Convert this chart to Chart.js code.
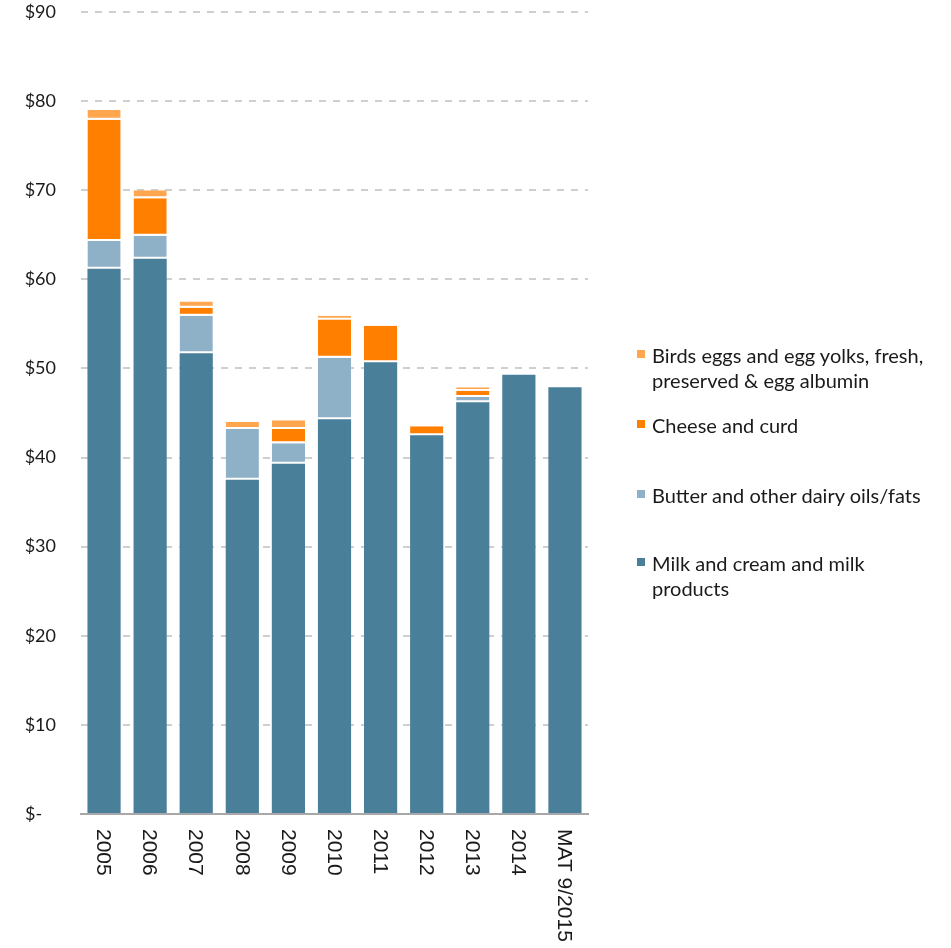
<!DOCTYPE html>
<html>
<head>
<meta charset="utf-8">
<title>Dairy imports</title>
<script src="https://cdn.jsdelivr.net/npm/chart.js@4/dist/chart.umd.min.js"></script>
<style>
    html, body { margin: 0; padding: 0; background: #fff; }
    #wrap { position: relative; width: 951px; height: 948px; overflow: hidden; }
    #legend { position: absolute; left: 0; top: 0; font-family: Lato, "Open Sans", sans-serif; font-size: 20px; line-height: 25px; color: #1a1a1a; }
    .legend-item { position: absolute; left: 637px; width: 310px; }
    .legend-box { position: absolute; left: 0; top: 7px; width: 8px; height: 8px; }
    .legend-text { position: absolute; left: 15px; width: 288px; }
</style>
</head>
<body>
<div id="wrap">
    <canvas id="dairyChart" width="951" height="948"></canvas>
    <div id="legend"></div>
</div>
<script>
// Categories (x axis)
const categories = ['2005', '2006', '2007', '2008', '2009', '2010', '2011', '2012', '2013', '2014', 'MAT 9/2015'];

// Series values, $ (stacked bottom to top)
const milkValues   = [61.2, 62.3, 51.7, 37.5, 39.3, 44.3, 50.7, 42.5, 46.2, 49.3, 47.9];
const butterValues = [3.1, 2.6, 4.2, 5.7, 2.3, 6.9, null, null, 0.6, null, null];
const cheeseValues = [13.6, 4.2, 0.9, null, 1.6, 4.3, 4.1, 1.0, 0.7, null, null];
const eggValues    = [1.1, 0.9, 0.7, 0.8, 1.0, 0.4, null, null, 0.4, null, null];

// Y axis ticks
const yTicks = [0, 10, 20, 30, 40, 50, 60, 70, 80, 90];

const seriesNames = [
    'Milk and cream and milk products',
    'Butter and other dairy oils/fats',
    'Cheese and curd',
    'Birds eggs and egg yolks, fresh, preserved & egg albumin'
];
const seriesColors = ['#4a7f9a', '#8fb1c7', '#ff7f00', '#ffa64f'];

// Rotated x labels (reading top to bottom)
const verticalLabels = {
    id: 'verticalLabels',
    afterDraw(chart) {
        const xScale = chart.scales.x;
        const ctx = chart.ctx;
        ctx.save();
        ctx.font = '21px "Liberation Sans", Arial, sans-serif';
        ctx.fillStyle = '#1a1a1a';
        ctx.textAlign = 'left';
        ctx.textBaseline = 'middle';
        categories.forEach((label, i) => {
            const px = xScale.getPixelForTick(i);
            ctx.save();
            ctx.translate(px - 1, xScale.top + 15);
            ctx.rotate(Math.PI / 2);
            ctx.fillText(label, 0, 0);
            ctx.restore();
        });
        ctx.restore();
    }
};

const datasets = [milkValues, butterValues, cheeseValues, eggValues].map((values, i) => ({
    label: seriesNames[i],
    data: values,
    backgroundColor: seriesColors[i],
    borderColor: '#ffffff',
    borderWidth: i === 0 ? 0 : { top: 0, left: 0, right: 0, bottom: 2 },
    borderSkipped: false,
    barPercentage: 0.72,
    categoryPercentage: 1.0
}));

const chart = new Chart(document.getElementById('dairyChart').getContext('2d'), {
    type: 'bar',
    data: { labels: categories, datasets },
    options: {
        responsive: false,
        animation: false,
        layout: { padding: { top: 12, right: 363, bottom: 0, left: 0 } },
        plugins: {
            legend: { display: false },
            tooltip: { enabled: false }
        },
        scales: {
            x: {
                stacked: true,
                grid: { display: false },
                border: { display: true, color: '#a8a8a8', width: 2 },
                ticks: { display: false },
                afterFit(scale) { scale.height = 134; }
            },
            y: {
                stacked: true,
                min: 0,
                max: 90,
                afterBuildTicks(scale) { scale.ticks = yTicks.map(v => ({ value: v })); },
                grid: { color: '#cfcfcf', lineWidth: 2, drawTicks: false },
                border: { display: false, dash: [7, 7] },
                ticks: {
                    padding: 25,
                    color: '#1a1a1a',
                    font: { family: 'Lato, "Open Sans", sans-serif', size: 18 },
                    callback: v => v === 0 ? '$-   ' : '$' + v
                },
                afterFit(scale) {
                    scale.width = 81;
                    // keep the label padding from pushing the plot area down
                    scale.paddingTop = 0;
                    scale.paddingBottom = 0;
                }
            }
        }
    },
    plugins: [verticalLabels]
});

// HTML legend, top entry first
const legendTops = [343, 413, 483, 551];
const legendEl = document.getElementById('legend');
chart.data.datasets.slice().reverse().forEach((ds, i) => {
    const item = document.createElement('div');
    item.className = 'legend-item';
    item.style.top = legendTops[i] + 'px';
    const box = document.createElement('span');
    box.className = 'legend-box';
    box.style.background = ds.backgroundColor;
    const text = document.createElement('span');
    text.className = 'legend-text';
    text.textContent = ds.label;
    item.appendChild(box);
    item.appendChild(text);
    legendEl.appendChild(item);
});
</script>
</body>
</html>
